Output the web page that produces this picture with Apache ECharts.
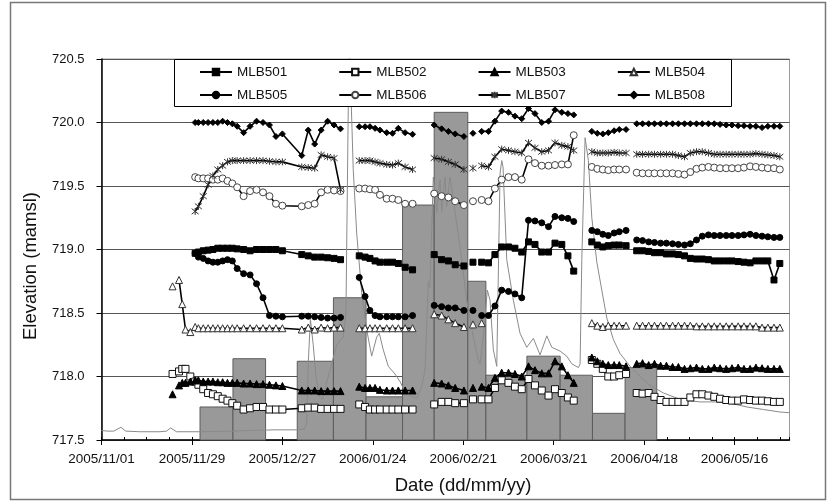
<!DOCTYPE html>
<html><head><meta charset="utf-8">
<script src="https://cdn.jsdelivr.net/npm/echarts@6/dist/echarts.min.js"></script>
<style>html,body{margin:0;padding:0;background:#fff}#c{width:831px;height:502px}</style>
</head><body><div id="c"></div>
<script>
// x values are days since 2005/11/01; each inner array is one sampling run (lines break between runs)
const daySegments = [
  [22],
  [24, 25, 26, 27.5, 29, 30, 31.5, 33, 34.5, 36, 37.5, 39, 40.5, 42, 44, 46, 48, 50, 52, 54, 56, 62, 64, 66, 68, 70, 72, 74],
  [79.8, 81.6, 83.1, 84.7, 86.2, 88.3, 90.1, 91.9, 94, 96.3],
  [103, 105.3, 107.4, 109.5, 112.2],
  [115],
  [117.7, 119.8, 121.8, 123.9, 126, 128, 130.1, 132.2, 134.2, 136.3, 138.4, 140.4, 142.5, 144.4, 146.2],
  [151.8, 153.5, 155.2, 156.9, 158.7, 160.3, 162.4],
  [165.7, 167.5, 169.4, 171.2, 173.1, 174.9, 176.8, 178.6, 180.5, 182.3, 184.2, 186.0, 187.9, 189.7, 191.5, 193.4, 195.2, 197.1, 198.9, 200.8, 202.6, 204.5, 206.3, 208.2, 210.0]
];
const _ = null;

const MLB501 = [
  [_],
  [_, _, _, _, 718.97, 718.98, 718.99, 718.995, 719.00, 719.01, 719.01, 719.01, 719.01, 719.005, 719.00, 718.99, 719.00, 719.00, 719.00, 719.00, 718.99, 718.96, 718.95, 718.94, 718.94, 718.935, 718.93, 718.92],
  [718.95, 718.94, 718.93, 718.91, 718.90, 718.90, 718.90, 718.89, 718.86, 718.84],
  [718.96, 718.92, 718.91, 718.88, 718.87],
  [718.90],
  [718.90, 718.895, 718.96, 719.02, 719.02, 719.01, 718.98, 719.06, 719.04, 718.98, 718.98, 719.05, 719.04, 718.95, 718.83],
  [719.06, 719.035, 719.02, 719.03, 719.035, 719.035, 719.03],
  [718.99, 718.99, 718.985, 718.975, 718.975, 718.965, 718.965, 718.96, 718.95, 718.93, 718.925, 718.925, 718.92, 718.91, 718.91, 718.91, 718.91, 718.905, 718.90, 718.895, 718.91, 718.91, 718.91, 718.76, 718.89]
];
const MLB502 = [
  [718.02],
  [718.04, 718.06, 718.06, 718.00, 717.96, 717.935, 717.90, 717.87, 717.86, 717.845, 717.825, 717.81, 717.79, 717.77, 717.74, 717.75, 717.76, 717.76, 717.74, 717.74, 717.74, 717.75, 717.755, 717.755, 717.745, 717.745, 717.745, 717.745],
  [717.78, 717.76, 717.74, 717.74, 717.74, 717.74, 717.74, 717.74, 717.74, 717.74],
  [717.78, 717.80, 717.80, 717.79, 717.79],
  [717.82],
  [717.82, 717.82, 717.91, 717.97, 717.95, 717.92, 717.90, 717.98, 717.93, 717.89, 717.85, 717.90, 717.87, 717.835, 717.81],
  [718.13, 718.10, 718.06, 718.00, 718.00, 718.01, 718.02],
  [717.87, 717.865, 717.87, 717.84, 717.815, 717.80, 717.80, 717.80, 717.80, 717.835, 717.86, 717.86, 717.85, 717.84, 717.825, 717.815, 717.81, 717.81, 717.82, 717.815, 717.81, 717.81, 717.805, 717.80, 717.80]
];
const MLB503 = [
  [717.86],
  [717.93, 717.95, 717.95, 717.96, 717.97, 717.97, 717.96, 717.96, 717.96, 717.955, 717.955, 717.95, 717.95, 717.95, 717.945, 717.945, 717.94, 717.94, 717.935, 717.93, 717.925, 717.89, 717.89, 717.89, 717.885, 717.885, 717.885, 717.885],
  [717.92, 717.91, 717.91, 717.91, 717.895, 717.89, 717.89, 717.89, 717.89, 717.89],
  [717.95, 717.945, 717.93, 717.91, 717.89],
  [717.91],
  [717.92, 717.91, 717.99, 718.03, 718.03, 718.02, 718.00, 718.08, 718.05, 718.025, 718.025, 718.12, 718.08, 718.01, 717.95],
  [718.15, 718.12, 718.10, 718.09, 718.09, 718.09, 718.08],
  [718.10, 718.105, 718.09, 718.10, 718.085, 718.085, 718.075, 718.075, 718.06, 718.065, 718.07, 718.06, 718.06, 718.07, 718.065, 718.06, 718.065, 718.07, 718.06, 718.06, 718.07, 718.065, 718.06, 718.06, 718.06]
];
const MLB504 = [
  [718.71],
  [718.76, 718.57, 718.37, 718.35, 718.39, 718.38, 718.38, 718.38, 718.38, 718.38, 718.38, 718.38, 718.38, 718.38, 718.38, 718.38, 718.38, 718.38, 718.38, 718.38, 718.38, 718.37, 718.385, 718.37, 718.385, 718.38, 718.385, 718.385],
  [718.38, 718.38, 718.38, 718.38, 718.38, 718.38, 718.38, 718.38, 718.38, 718.38],
  [718.49, 718.48, 718.45, 718.42, 718.39],
  [718.41],
  [718.42, _, _, _, _, _, _, _, _, _, _, _, _, _, _],
  [718.42, 718.40, 718.39, 718.40, 718.40, 718.40, 718.40],
  [718.40, 718.40, 718.40, 718.40, 718.40, 718.40, 718.40, 718.40, 718.40, 718.40, 718.395, 718.395, 718.395, 718.395, 718.395, 718.395, 718.395, 718.395, 718.395, 718.395, 718.395, 718.385, 718.385, 718.385, 718.385]
];
const MLB505 = [
  [_],
  [_, _, _, _, 718.97, 718.94, 718.93, 718.91, 718.90, 718.90, 718.91, 718.92, 718.91, 718.85, 718.81, 718.80, 718.73, 718.62, 718.48, 718.475, 718.47, 718.475, 718.475, 718.47, 718.465, 718.46, 718.46, 718.465],
  [718.78, 718.63, 718.52, 718.48, 718.47, 718.47, 718.47, 718.47, 718.47, 718.48],
  [718.56, 718.55, 718.54, 718.54, 718.52],
  [718.52],
  [718.48, 718.48, 718.555, 718.68, 718.67, 718.65, 718.62, 719.23, 719.225, 719.21, 719.18, 719.26, 719.25, 719.245, 719.22],
  [719.15, 719.14, 719.12, 719.11, 719.13, 719.14, 719.15],
  [719.075, 719.07, 719.06, 719.055, 719.05, 719.05, 719.045, 719.04, 719.035, 719.045, 719.075, 719.105, 719.115, 719.11, 719.11, 719.11, 719.11, 719.11, 719.115, 719.12, 719.11, 719.105, 719.10, 719.095, 719.095]
];
const MLB506 = [
  [_],
  [_, _, _, _, 719.57, 719.56, 719.56, 719.56, 719.55, 719.55, 719.56, 719.54, 719.52, 719.49, 719.42, 719.46, 719.47, 719.45, 719.42, 719.36, 719.345, 719.34, 719.35, 719.36, 719.45, 719.47, 719.465, 719.46],
  [719.48, 719.48, 719.474, 719.47, 719.43, 719.40, 719.40, 719.39, 719.36, 719.36],
  [719.44, 719.42, 719.41, 719.38, 719.35],
  [719.38],
  [719.39, 719.38, 719.48, 719.55, 719.57, 719.57, 719.55, 719.71, 719.68, 719.66, 719.66, 719.665, 719.67, 719.67, 719.90],
  [719.65, 719.635, 719.63, 719.625, 719.63, 719.63, 719.63],
  [719.605, 719.60, 719.60, 719.60, 719.60, 719.60, 719.60, 719.595, 719.59, 719.61, 719.635, 719.645, 719.65, 719.645, 719.64, 719.64, 719.64, 719.64, 719.645, 719.655, 719.65, 719.645, 719.64, 719.64, 719.63]
];
const MLB507 = [
  [_],
  [_, _, _, _, 719.30, 719.34, 719.42, 719.51, 719.58, 719.63, 719.66, 719.69, 719.70, 719.70, 719.70, 719.70, 719.70, 719.70, 719.695, 719.69, 719.69, 719.65, 719.645, 719.64, 719.745, 719.73, 719.72, 719.47],
  [719.70, 719.70, 719.70, 719.69, 719.68, 719.67, 719.665, 719.68, 719.65, 719.63],
  [719.72, 719.71, 719.69, 719.67, 719.63],
  [719.64],
  [719.66, 719.65, 719.73, 719.79, 719.78, 719.77, 719.76, 719.84, 719.80, 719.77, 719.78, 719.84, 719.82, 719.81, 719.78],
  [719.77, 719.76, 719.76, 719.76, 719.765, 719.76, 719.76],
  [719.75, 719.75, 719.75, 719.75, 719.75, 719.75, 719.75, 719.74, 719.73, 719.76, 719.77, 719.77, 719.76, 719.75, 719.75, 719.75, 719.75, 719.75, 719.75, 719.75, 719.755, 719.75, 719.745, 719.74, 719.73]
];
const MLB508 = [
  [_],
  [_, _, _, _, 720.0, 720.0, 720.0, 720.0, 720.0, 720.0, 720.01, 720.0, 719.99, 719.97, 719.92, 719.97, 720.01, 720.0, 719.98, 719.89, 719.91, 719.74, 719.94, 719.83, 719.94, 720.01, 719.98, 719.95],
  [719.967, 719.967, 719.967, 719.954, 719.94, 719.92, 719.915, 719.954, 719.92, 719.907],
  [719.98, 719.95, 719.93, 719.91, 719.89],
  [719.915],
  [719.93, 719.93, 720.01, 720.09, 720.08, 720.05, 720.03, 720.11, 720.07, 720.00, 720.01, 720.10, 720.08, 720.07, 720.06],
  [719.93, 719.915, 719.91, 719.92, 719.935, 719.945, 719.945],
  [719.99, 719.99, 719.99, 719.99, 719.99, 719.99, 719.99, 719.99, 719.99, 719.99, 719.99, 719.99, 719.99, 719.99, 719.985, 719.98, 719.98, 719.975, 719.975, 719.97, 719.97, 719.96, 719.97, 719.97, 719.97]
];

// thin grey trace (stream stage), days since 2005/11/01 and level
const stageDays = [0, 1.95, 3.81, 5.98, 7.53, 11.87, 18.06, 20.14, 21.38, 23.23, 30.45, 39.75, 45.94, 53.69, 60.5, 62.67, 63.51, 64.0, 64.68, 65.55, 66.39, 67.41, 68.46, 69.7, 71.25, 72.8, 74.85, 75.68, 76.39, 76.77, 77.14, 77.94, 79.0, 80.55, 82.09, 83.64, 85.19, 86.0, 87.24, 88.79, 90.86, 92.41, 93.96, 96.04, 97.58, 99.13, 100.16, 101.18, 101.7, 102.73, 103.78, 104.8, 105.33, 106.35, 106.88, 107.9, 108.92, 111.0, 113.07, 115.12, 116.67, 117.19, 118.22, 119.45, 120.29, 121.31, 122.37, 123.39, 123.92, 124.32, 125.46, 127.51, 129.58, 131.66, 133.71, 135.78, 137.86, 139.41, 141.98, 144.05, 145.6, 147.65, 148.17, 148.7, 149.72, 150.74, 151.8, 153.35, 154.89, 156.44, 158.49, 160.56, 163.66, 166.76, 169.86, 173.98, 178.13, 181.23, 185.35, 190.0, 194.64, 199.81, 204.96, 210.13, 213.0];
const stageLevel = [717.575, 717.57, 717.57, 717.6, 717.57, 717.565, 717.565, 717.57, 717.595, 717.565, 717.565, 717.57, 717.575, 717.58, 717.58, 717.585, 717.63, 718.10, 718.45, 718.25, 718.0, 717.84, 717.82, 717.95, 718.10, 718.25, 718.31, 718.50, 720.1, 720.6, 720.3, 719.63, 719.13, 718.66, 718.37, 718.16, 718.31, 718.34, 718.21, 718.08, 718.02, 717.96, 717.88, 717.84, 717.83, 717.92, 718.05, 718.75, 718.70, 719.57, 719.29, 719.55, 719.30, 719.57, 719.34, 719.57, 719.39, 719.02, 718.60, 718.31, 718.13, 718.10, 718.31, 718.68, 718.60, 718.21, 718.08, 719.60, 719.70, 719.65, 718.92, 718.60, 718.34, 718.23, 718.30, 718.17, 718.32, 718.23, 718.20, 718.16, 718.10, 718.07, 718.10, 718.92, 719.88, 719.70, 719.25, 718.90, 718.68, 718.46, 718.29, 718.18, 718.08, 718.0, 717.93, 717.87, 717.83, 717.81, 717.80, 717.80, 717.79, 717.76, 717.74, 717.72, 717.715];

// rainfall totals per period (edges in days since 2005/11/01)
const rainEdges = [30.5, 40.7, 50.8, 60.6, 71.8, 81.9, 93.2, 103.0, 113.4, 119.0, 131.7, 142.0, 152.0, 162.1, 171.9];
const rainTotals = [26, 64, 0, 62, 112, 34, 185, 258, 125, 51, 66, 51, 21, 57];

const xTickStep = 28;
const yTicks = [717.5, 718.0, 718.5, 719.0, 719.5, 720.0, 720.5];

const FONT = '"Liberation Sans", Arial, sans-serif';
const base = Date.UTC(2005, 10, 1);
const pad = n => (n < 10 ? '0' : '') + n;
function dateLabel(v) {
  const t = new Date(base + Math.round(v) * 86400000);
  return t.getUTCFullYear() + '/' + pad(t.getUTCMonth() + 1) + '/' + pad(t.getUTCDate());
}
function build(vals) {
  const out = [];
  daySegments.forEach((seg, s) => {
    if (s > 0) {
      const prev = daySegments[s - 1];
      out.push([(prev[prev.length - 1] + seg[0]) / 2, null]);
    }
    seg.forEach((d, i) => out.push([d, vals[s][i]]));
  });
  return out;
}

const asterisk = 'path://M1,1L9,9M9,1L1,9M5,0L5,10';
const defs = [
  ['MLB501', MLB501, 'rect', 6, '#000', '#000'],
  ['MLB502', MLB502, 'rect', 7, '#fff', '#111'],
  ['MLB503', MLB503, 'triangle', 7, '#000', '#000'],
  ['MLB504', MLB504, 'triangle', 7, '#fff', '#333'],
  ['MLB505', MLB505, 'circle', 6, '#000', '#000'],
  ['MLB506', MLB506, 'circle', 7, '#fff', '#444'],
  ['MLB507', MLB507, asterisk, 7, '#333', '#333'],
  ['MLB508', MLB508, 'diamond', 6, '#000', '#000']
];

const series = [
  {
    type: 'custom', name: 'rain', xAxisIndex: 0, yAxisIndex: 1, z: 1,
    data: rainTotals.map((v, i) => [rainEdges[i], rainEdges[i + 1], v]),
    encode: { x: [0, 1], y: 2 },
    renderItem: (params, api) => {
      const v = api.value(2);
      if (!v) return null;
      const p0 = api.coord([api.value(0), v]);
      const p1 = api.coord([api.value(1), 0]);
      return { type: 'rect', shape: { x: p0[0], y: p0[1], width: p1[0] - p0[0], height: p1[1] - p0[1] },
        style: { fill: '#999999', stroke: '#5c5c5c', lineWidth: 1 } };
    }
  },
  {
    type: 'line', name: 'stage', z: 2, symbol: 'none', silent: true,
    data: stageDays.map((d, i) => [d, stageLevel[i]]),
    lineStyle: { color: '#8a8a8a', width: 1 }
  }
];
defs.forEach(([name, vals, sym, size, fill, stroke]) => {
  series.push({
    type: 'line', name, z: 3, data: build(vals), symbol: sym, symbolSize: size,
    showSymbol: true, connectNulls: false,
    itemStyle: { color: fill, borderColor: stroke, borderWidth: 1 },
    lineStyle: { color: '#000', width: 1.6 }
  });
});

const legendCommon = {
  left: 199, itemWidth: 32, itemHeight: 8, itemGap: 51, selectedMode: false, z: 20,
  padding: 0, textStyle: { fontFamily: FONT, fontSize: 13.5, color: '#111' }
};

const chart = echarts.init(document.getElementById('c'), null, { renderer: 'canvas' });
chart.setOption({
  animation: false,
  backgroundColor: '#fff',
  grid: { left: 101.5, right: 41.5, top: 59, bottom: 62, show: true, borderColor: '#9a9a9a', borderWidth: 1 },
  legend: [
    Object.assign({ top: 65, data: ['MLB501', 'MLB502', 'MLB503', 'MLB504'] }, legendCommon),
    Object.assign({ top: 88, data: ['MLB505', 'MLB506', 'MLB507', 'MLB508'] }, legendCommon)
  ],
  xAxis: [
    {
      type: 'value', min: 0, max: 213, interval: xTickStep, position: 'bottom',
      axisLine: { onZero: false, lineStyle: { color: '#000', width: 1.5 } },
      axisTick: { length: 5, lineStyle: { color: '#000' } },
      axisLabel: { formatter: dateLabel, showMaxLabel: false, margin: 12, fontFamily: FONT, fontSize: 13.5, color: '#111' },
      splitLine: { show: false }
    },
    {
      type: 'value', min: 0, max: 213, interval: 7, position: 'bottom',
      axisLine: { show: false, onZero: false },
      axisTick: { inside: true, length: 3, lineStyle: { color: '#000' } },
      axisLabel: { show: false }, splitLine: { show: false }
    }
  ],
  yAxis: [
    {
      type: 'value', min: yTicks[0], max: yTicks[yTicks.length - 1], interval: 0.5,
      axisLine: { show: true, lineStyle: { color: '#000', width: 1.5 } },
      axisTick: { show: true, length: 5, lineStyle: { color: '#000' } },
      axisLabel: { formatter: v => v.toFixed(1), margin: 17, fontFamily: FONT, fontSize: 13, color: '#111' },
      splitLine: { show: true, lineStyle: { color: '#555', width: 1 } }
    },
    { type: 'value', min: 0, max: 300, show: false, splitLine: { show: false } }
  ],
  graphic: [
    { type: 'rect', z: 0, silent: true, shape: { x: 10.5, y: 2.5, width: 815, height: 497 }, style: { fill: 'none', stroke: '#777', lineWidth: 1.5 } },
    { type: 'rect', z: 10, silent: true, shape: { x: 174.5, y: 59.5, width: 557, height: 47 }, style: { fill: '#fff', stroke: '#000', lineWidth: 1 } },
    { type: 'text', z: 10, silent: true, x: 31, y: 266, rotation: Math.PI / 2,
      style: { text: 'Elevation (mamsl)', font: '18.5px ' + FONT, fill: '#111', align: 'center', verticalAlign: 'middle', textAlign: 'center', textVerticalAlign: 'middle' } },
    { type: 'text', z: 10, silent: true, x: 463, y: 486,
      style: { text: 'Date (dd/mm/yy)', font: '18.5px ' + FONT, fill: '#111', align: 'center', verticalAlign: 'middle', textAlign: 'center', textVerticalAlign: 'middle' } }
  ],
  series
});
</script></body></html>
